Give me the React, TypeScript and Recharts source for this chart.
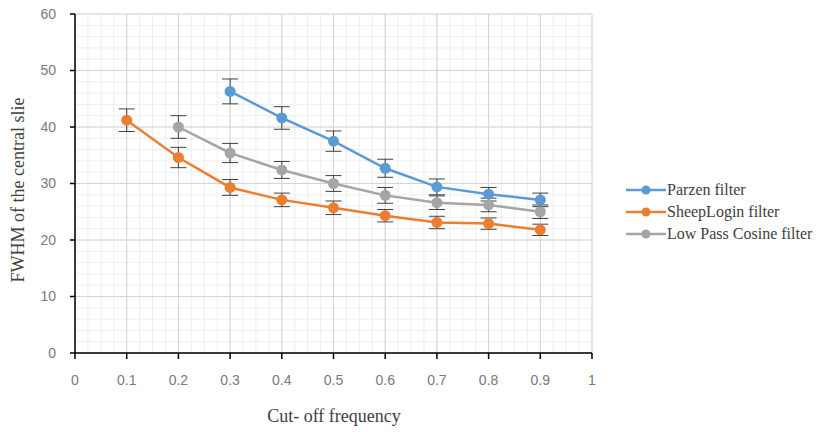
import React from 'react';
import {
  LineChart, Line, XAxis, YAxis, CartesianGrid, ErrorBar,
} from 'recharts';

const parzenX = [0.3, 0.4, 0.5, 0.6, 0.7, 0.8, 0.9];
const parzenY = [46.3, 41.6, 37.5, 32.7, 29.4, 28.1, 27.1];
const parzenErr = [2.2, 2.0, 1.8, 1.6, 1.4, 1.2, 1.2];

const sheepX = [0.1, 0.2, 0.3, 0.4, 0.5, 0.6, 0.7, 0.8, 0.9];
const sheepY = [41.2, 34.6, 29.3, 27.1, 25.7, 24.3, 23.1, 22.9, 21.8];
const sheepErr = [2.0, 1.8, 1.4, 1.2, 1.2, 1.1, 1.1, 1.0, 1.0];

const cosineX = [0.2, 0.3, 0.4, 0.5, 0.6, 0.7, 0.8, 0.9];
const cosineY = [40.0, 35.4, 32.4, 30.0, 27.9, 26.6, 26.2, 25.0];
const cosineErr = [2.0, 1.7, 1.5, 1.4, 1.4, 1.2, 1.2, 1.2];

const xTicks = [0, 0.1, 0.2, 0.3, 0.4, 0.5, 0.6, 0.7, 0.8, 0.9, 1];
const yTicks = [0, 10, 20, 30, 40, 50, 60];

const SERIES = [
  { name: 'Parzen filter', color: '#5B9BD5', xs: parzenX, ys: parzenY, errs: parzenErr },
  { name: 'SheepLogin filter', color: '#ED7D31', xs: sheepX, ys: sheepY, errs: sheepErr },
  { name: 'Low Pass Cosine filter', color: '#A5A5A5', xs: cosineX, ys: cosineY, errs: cosineErr },
];

const FONT = '"Liberation Serif", "Times New Roman", serif';
const TICK_FONT = '"Liberation Sans", Arial, sans-serif';

// minor grid: 4 per x step, 5 per y step
const minorV = ({ offset }: any) =>
  Array.from({ length: 41 }, (_, i) => offset.left + (offset.width * i) / 40);
const minorH = ({ offset }: any) =>
  Array.from({ length: 31 }, (_, i) => offset.top + (offset.height * i) / 30);

function LegendBox() {
  return (
    <div style={{
      position: 'absolute', left: 626, top: 179,
      fontFamily: FONT, fontSize: 16, color: '#404040',
    }}>
      {SERIES.map((s) => (
        <div key={s.name} style={{ display: 'flex', alignItems: 'center', height: 22 }}>
          <svg width={40} height={12} style={{ marginRight: 1 }}>
            <line x1={0} y1={6} x2={40} y2={6} stroke={s.color} strokeWidth={2.5} />
            <circle cx={20} cy={6} r={4.5} fill={s.color} />
          </svg>
          <span>{s.name}</span>
        </div>
      ))}
    </div>
  );
}

export default function App() {
  return (
    <div style={{
      position: 'absolute', left: 0, top: 0, width: 819, height: 432,
      background: '#fff', fontFamily: FONT,
    }}>
      <LineChart
        width={819}
        height={432}
        margin={{ top: 14, right: 227, bottom: 49, left: 35 }}
      >
        <CartesianGrid stroke="#eeeeee" verticalCoordinatesGenerator={minorV} horizontalCoordinatesGenerator={minorH} />
        <CartesianGrid stroke="#d4d4d4" />
        <XAxis
          type="number"
          dataKey="x"
          domain={[0, 1]}
          ticks={xTicks}
          allowDuplicatedCategory={false}
          height={30}
          stroke="#000"
          strokeWidth={1.5}
          tickSize={6}
          tick={{ fill: '#7a7a7a', fontSize: 14, fontFamily: TICK_FONT }}
          tickMargin={16}
        />
        <YAxis
          type="number"
          domain={[0, 60]}
          ticks={yTicks}
          width={40}
          stroke="#000"
          strokeWidth={1.5}
          tickSize={5}
          tick={{ fill: '#7a7a7a', fontSize: 14, fontFamily: TICK_FONT }}
          tickMargin={14}
        />
        {SERIES.map((s) => (
          <Line
            key={s.name}
            name={s.name}
            data={s.xs.map((x, i) => ({ x, y: s.ys[i], err: s.errs[i] }))}
            dataKey="y"
            stroke={s.color}
            strokeWidth={2.5}
            dot={{ r: 5.5, fill: s.color, stroke: s.color, strokeWidth: 0 }}
            isAnimationActive={false}
          >
            <ErrorBar dataKey="err" direction="y" width={8} stroke="#404040" strokeWidth={1} />
          </Line>
        ))}
      </LineChart>
      <LegendBox />
      <div style={{
        position: 'absolute', left: 334, top: 406, transform: 'translateX(-50%)',
        fontFamily: FONT, fontSize: 18, color: '#404040', whiteSpace: 'nowrap',
      }}>
        Cut- off frequency
      </div>
      <div style={{
        position: 'absolute', left: 18, top: 190, transform: 'translate(-50%, -50%) rotate(-90deg)',
        fontFamily: FONT, fontSize: 18, color: '#404040', whiteSpace: 'nowrap',
      }}>
        FWHM of the central slie
      </div>
    </div>
  );
}
